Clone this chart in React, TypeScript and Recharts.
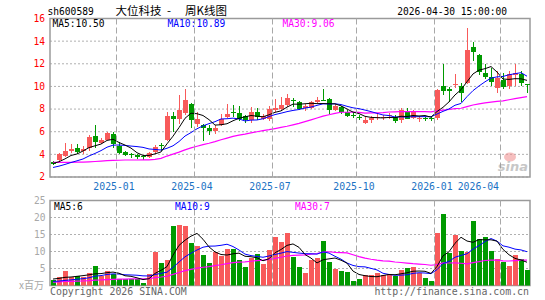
import React from 'react';
import { ComposedChart, Bar, Line, XAxis, YAxis, CartesianGrid, ReferenceArea } from 'recharts';

// ---- weekly candles (80 weeks) ----
const opens = [3.35, 3.5, 3.85, 4.27, 4.6, 4.3, 4.55, 5.65, 5.0, 5.3,
  5.76, 4.75, 4.2, 4.0, 3.95, 3.82, 3.74, 4.17, 4.84, 5.25,
  7.35, 7.1, 7.69, 8.47, 6.72, 6.58, 6.37, 6.05, 6.63, 7.34,
  7.74, 7.68, 7.36, 7.01, 7.74, 7.16, 7.1, 7.89, 7.98, 8.38,
  8.82, 8.65, 8.1, 8.1, 8.62, 8.82, 8.9, 7.9, 8.15, 7.71,
  7.45, 7.33, 6.8, 7.01, 7.22, 7.19, 7.39, 7.3, 7.01, 7.74,
  7.25, 7.13, 7.22, 7.2, 7.2, 10.05, 9.81, 10.1, 10.05, 10.34,
  13.46, 12.76, 11.21, 10.83, 9.9, 10.54, 10.05, 10.98, 11.07, 10.2];
const highs = [3.4, 4.1, 5.0, 4.9, 4.95, 4.7, 5.7, 6.62, 5.45, 5.95,
  6.0, 5.1, 4.3, 4.15, 4.0, 3.95, 4.2, 4.83, 4.98, 7.7,
  7.74, 9.2, 9.78, 8.56, 7.74, 6.72, 6.58, 6.58, 7.6, 8.47,
  8.38, 8.27, 7.51, 8.18, 8.1, 7.6, 8.27, 8.85, 9.06, 9.35,
  8.97, 8.73, 8.44, 8.73, 9.03, 9.8, 8.97, 8.44, 8.3, 7.92,
  7.63, 7.45, 7.28, 7.39, 7.65, 7.51, 7.65, 7.51, 8.1, 8.1,
  7.95, 7.42, 7.34, 7.4, 9.76, 11.94, 9.96, 11.07, 10.34, 15.2,
  13.92, 12.87, 11.94, 11.6, 11.36, 11.21, 11.36, 12.0, 11.36, 10.25];
const lows = [3.1, 3.4, 3.8, 4.1, 4.05, 4.0, 4.3, 4.6, 4.95, 5.25,
  4.55, 4.05, 3.85, 3.66, 3.55, 3.5, 3.65, 4.05, 4.3, 5.15,
  5.99, 6.72, 7.5, 6.34, 6.43, 5.18, 5.7, 5.79, 6.52, 7.22,
  7.34, 6.93, 6.81, 6.81, 7.01, 7.01, 6.93, 7.74, 7.8, 8.18,
  8.2, 7.92, 7.8, 8.0, 8.5, 8.67, 7.57, 7.8, 7.57, 7.34,
  7.19, 7.04, 6.69, 6.81, 7.04, 7.01, 7.16, 6.81, 6.81, 7.1,
  7.1, 6.84, 6.98, 6.98, 7.04, 9.26, 8.59, 9.9, 8.59, 10.2,
  12.23, 11.0, 10.63, 10.05, 9.46, 9.75, 9.75, 10.05, 10.05, 9.38];
const closes = [3.15, 4.0, 4.27, 4.5, 4.25, 4.45, 5.52, 5.06, 5.27, 5.85,
  4.95, 4.12, 3.92, 3.93, 3.8, 3.75, 4.12, 4.63, 4.77, 7.38,
  7.13, 7.89, 8.76, 7.01, 7.16, 6.34, 6.05, 6.37, 7.16, 7.6,
  7.65, 7.16, 7.01, 7.74, 7.3, 7.39, 8.03, 8.1, 8.38, 8.97,
  8.7, 8.0, 8.3, 8.59, 8.82, 8.73, 7.9, 8.27, 7.71, 7.42,
  7.36, 7.25, 7.05, 7.25, 7.28, 7.28, 7.45, 6.93, 7.89, 7.16,
  7.75, 7.22, 7.13, 7.15, 9.67, 9.61, 9.61, 10.2, 9.46, 13.2,
  13.05, 11.3, 10.83, 10.4, 10.78, 9.96, 11.13, 11.15, 10.34, 10.1];

// ---- weekly volume (x 百万) ----
const volumes = [1.5, 2.5, 4.2, 2.5, 2.8, 2.5, 3.7, 5.7, 2.8, 4.2,
  3.3, 2.0, 2.0, 2.0, 2.0, 0.7, 3.3, 9.8, 6.5, 7.5,
  17.5, 17.7, 17.4, 12.5, 11.5, 8.9, 6.5, 10.0, 8.7, 10.7,
  10.7, 7.5, 5.4, 8.0, 9.2, 6.3, 10.4, 14.3, 12.7, 15.3,
  8.4, 5.4, 3.7, 7.5, 8.2, 13.0, 6.8, 4.9, 4.3, 3.9,
  1.3, 1.8, 3.1, 3.1, 3.6, 3.1, 3.3, 2.7, 4.5, 5.1,
  5.4, 3.6, 2.3, 1.3, 15.4, 21.0, 9.6, 14.8, 10.1, 9.9,
  19.1, 13.6, 14.4, 10.2, 7.9, 7.0, 5.7, 9.1, 7.7, 4.7];

// moving-average values at the left edge (window reaches before the visible weeks)
const ma5Head = [3.2, 3.35, 3.6, 3.9];
const ma10Head = [2.84, 2.96, 3.11, 3.28, 3.43, 3.59, 3.86, 4.08, 4.33];
const ma30Head = [3.3, 3.3, 3.3, 3.3, 3.31, 3.32, 3.34, 3.37, 3.4, 3.44,
  3.46, 3.48, 3.5, 3.5, 3.5, 3.51, 3.52, 3.56, 3.65, 3.85,
  4.02, 4.2, 4.4, 4.57, 4.72, 4.86, 4.98, 5.12, 5.29];
const vma5Head = [1.9, 2.1, 2.4, 2.5];
const vma10Head = [1.2, 1.3, 1.5, 1.65, 1.85, 2.0, 2.27, 2.74, 2.92];
const vma30Head = [1.01, 1.06, 1.17, 1.22, 1.28, 1.33, 1.42, 1.58, 1.64, 1.75,
  1.83, 1.87, 1.9, 1.93, 1.96, 1.95, 2.03, 2.32, 2.5, 2.72,
  3.27, 3.83, 4.38, 4.76, 5.11, 5.37, 5.55, 5.85, 6.11];

const monthTicks = [11, 24, 37, 51, 64, 75];
const monthLabels = ['2025-01', '2025-04', '2025-07', '2025-10', '2026-01', '2026-04'];
const priceTicks = [2, 4, 6, 8, 10, 12, 14, 16];
const volumeTicks = [0, 5, 10, 15, 20, 25];
const xDomain = [0, 80];

const stockCode = 'sh600589';
const stockTitle = ['大位科技 ', '- ', '周K线图'];
const stampText = '2026-04-30 15:00:00';
const priceLegend = ['MA5:10.50', 'MA10:10.89', 'MA30:9.06'];
const volumeLegend = ['MA5:6', 'MA10:9', 'MA30:7'];
const volumeUnit = 'x百万';

const RED = '#f85a5a';
const GREEN = '#009a00';
const GRID = '#b0b0b0';
const VGRID = '#a8a8a8';
const BORDER = '#9a9a9a';
const MONO = '"DejaVu Sans Mono", "Liberation Mono", monospace';

// plot-area extents (layout) used for the month separator lines drawn by the axis ticks
const MAIN_TOP = 18.5;
const MAIN_BOTTOM = 177;
const VOL_TOP = 5.5;
const VOL_BOTTOM = 90.5;

function movingAverage(values: number[], n: number, head: number[]) {
  return values.map((_, i) => {
    if (i < head.length) return head[i];
    let s = 0;
    for (let k = i - n + 1; k <= i; k++) s += values[k];
    return s / n;
  });
}

const ma5 = movingAverage(closes, 5, ma5Head);
const ma10 = movingAverage(closes, 10, ma10Head);
const ma30 = movingAverage(closes, 30, ma30Head);
const vma5 = movingAverage(volumes, 5, vma5Head);
const vma10 = movingAverage(volumes, 10, vma10Head);
const vma30 = movingAverage(volumes, 30, vma30Head);

const data = closes.map((c, i) => ({
  x: i + 0.5,
  open: opens[i],
  high: highs[i],
  low: lows[i],
  close: c,
  range: [lows[i], highs[i]],
  up: c >= opens[i],
  ma5: ma5[i],
  ma10: ma10[i],
  ma30: ma30[i],
  vol: volumes[i],
  vma5: vma5[i],
  vma10: vma10[i],
  vma30: vma30[i],
}));

const Candle = (props: any) => {
  const { x, y, width, height, payload } = props;
  if (x == null || !payload) return null;
  const top = Math.min(y, y + height);
  const h = Math.abs(height);
  const { open, close, high, low } = payload;
  const k = high > low ? h / (high - low) : 0;
  const py = (v: number) => top + (high - v) * k;
  const color = close >= open ? RED : GREEN;
  const bx = Math.round(x + width / 2 - 2.5);
  const bTop = py(Math.max(open, close));
  const bBot = py(Math.min(open, close));
  return (
    <g shapeRendering="crispEdges">
      <rect x={bx + 2} y={top} width={1} height={Math.max(h, 1)} fill={color} />
      <rect x={bx} y={bTop} width={5} height={Math.max(bBot - bTop, 1)} fill={color} />
    </g>
  );
};

const VolBar = (props: any) => {
  const { x, y, width, height, payload } = props;
  if (x == null || !payload) return null;
  const top = Math.min(y, y + height);
  const h = Math.abs(height);
  const bx = Math.round(x + width / 2 - 2.5);
  return <rect x={bx} y={top} width={5} height={h} fill={payload.up ? RED : GREEN} shapeRendering="crispEdges" />;
};

const PriceTick = (props: any) => {
  const { y, payload } = props;
  return (
    <text x={45} y={y} dy="0.35em" textAnchor="end" fill="#ff0000" fontFamily={MONO} fontSize={9.6}>
      {payload.value}
    </text>
  );
};

const VolumeTick = (props: any) => {
  const { y, payload } = props;
  const isZero = payload.value === 0;
  return (
    <text x={isZero ? 44 : 45.5} y={y} dy="0.35em" textAnchor="end" fill="#a8a8a8"
      fontFamily={isZero ? '"Noto Sans CJK SC", sans-serif' : MONO} fontSize={isZero ? 10 : 9.6}>
      {isZero ? volumeUnit : payload.value}
    </text>
  );
};

// month tick: label plus the dashed separator line at the tick's scaled x
const MonthTick = (props: any) => {
  const { x, payload } = props;
  const idx = monthTicks.indexOf(payload.value);
  const last = idx === monthTicks.length - 1;
  const lx = Math.round(x) + 0.5;
  return (
    <g>
      <line x1={lx} x2={lx} y1={MAIN_TOP} y2={MAIN_BOTTOM} stroke={VGRID} strokeWidth={1} strokeDasharray="6 3" />
      <text x={last ? x - 1 : x - 2} y={190} textAnchor={last ? 'end' : 'middle'} fill="#1a72c4"
        fontFamily={MONO} fontSize={9.8}>
        {monthLabels[idx]}
      </text>
    </g>
  );
};

const VolMonthTick = (props: any) => {
  const { x } = props;
  if (x == null) return null;
  const lx = Math.round(x) + 0.5;
  return <line x1={lx} x2={lx} y1={VOL_TOP} y2={VOL_BOTTOM} stroke={VGRID} strokeWidth={1} strokeDasharray="6 3" />;
};

export default function App() {
  return (
    <div style={{ position: 'absolute', left: 0, top: 0, width: 545, height: 300, background: '#fff', overflow: 'hidden' }}>
      <div style={{ position: 'absolute', left: 0, top: 0 }}>
        <ComposedChart width={545} height={195} data={data} margin={{ top: 18.5, right: 15, bottom: 0, left: 0 }}>
          <CartesianGrid vertical={false} stroke={GRID} strokeDasharray="2 2" />
          <XAxis type="number" dataKey="x" domain={xDomain} ticks={monthTicks} interval={0}
            height={18} axisLine={false} tickLine={false} tick={<MonthTick />} allowDataOverflow />
          <YAxis type="number" domain={[2, 16]} ticks={priceTicks} interval={0} width={50}
            axisLine={false} tickLine={false} tick={<PriceTick />} allowDataOverflow />
          <ReferenceArea x1={0} x2={80} y1={2} y2={16} fill="none" stroke={BORDER} strokeWidth={1.5} />
          <Line dataKey="ma30" stroke="#ff00ff" strokeWidth={1.2} dot={false} isAnimationActive={false} />
          <Line dataKey="ma10" stroke="#0000ff" strokeWidth={1} dot={false} isAnimationActive={false} />
          <Line dataKey="ma5" stroke="#000000" strokeWidth={1} dot={false} isAnimationActive={false} />
          <Bar dataKey="range" barSize={5} shape={<Candle />} isAnimationActive={false} />
        </ComposedChart>
      </div>
      <div style={{ position: 'absolute', left: 0, top: 195 }}>
        <ComposedChart width={545} height={105} data={data} margin={{ top: 5.5, right: 15, bottom: 0, left: 0 }}>
          <CartesianGrid vertical={false} stroke={GRID} strokeDasharray="2 2" />
          <XAxis type="number" dataKey="x" domain={xDomain} ticks={monthTicks} interval={0}
            height={14.5} axisLine={false} tickLine={false} tick={<VolMonthTick />} allowDataOverflow />
          <YAxis type="number" domain={[0, 25]} ticks={volumeTicks} interval={0} width={50}
            axisLine={false} tickLine={false} tick={<VolumeTick />} allowDataOverflow />
          <ReferenceArea x1={0} x2={80} y1={0} y2={25} fill="none" stroke={BORDER} strokeWidth={1.5} />
          <Bar dataKey="vol" barSize={5} shape={<VolBar />} isAnimationActive={false} />
          <Line dataKey="vma30" stroke="#ff00ff" strokeWidth={1.2} dot={false} isAnimationActive={false} />
          <Line dataKey="vma10" stroke="#0000ff" strokeWidth={1} dot={false} isAnimationActive={false} />
          <Line dataKey="vma5" stroke="#000000" strokeWidth={1} dot={false} isAnimationActive={false} />
        </ComposedChart>
      </div>
      <svg width={545} height={300} style={{ position: 'absolute', left: 0, top: 0, pointerEvents: 'none' }}>
        <text x={47.5} y={15} fontFamily={MONO} fontSize={9.6} fill="#000">{stockCode}</text>
        <text y={15} fontFamily='"Noto Sans CJK SC", sans-serif' fontSize={11.5} fill="#000">
          <tspan x={115.5}>{stockTitle[0]}</tspan>
          <tspan x={167}>{stockTitle[1]}</tspan>
          <tspan x={185}>{stockTitle[2]}</tspan>
        </text>
        <text x={507} y={15} textAnchor="end" fontFamily={MONO} fontSize={9.6} fill="#000">{stampText}</text>
        <text x={52.5} y={27} fontFamily={MONO} fontSize={9.6} fill="#000">{priceLegend[0]}</text>
        <text x={167.5} y={27} fontFamily={MONO} fontSize={9.6} fill="#0000ff">{priceLegend[1]}</text>
        <text x={282.5} y={27} fontFamily={MONO} fontSize={9.6} fill="#ff00ff">{priceLegend[2]}</text>
        <text x={54} y={209.5} fontFamily={MONO} fontSize={9.6} fill="#000">{volumeLegend[0]}</text>
        <text x={175} y={209.5} fontFamily={MONO} fontSize={9.6} fill="#0000ff">{volumeLegend[1]}</text>
        <text x={295} y={209.5} fontFamily={MONO} fontSize={9.6} fill="#ff00ff">{volumeLegend[2]}</text>
        <text x={50} y={295} fontFamily={MONO} fontSize={9.9} fill="#666">Copyright 2026 SINA.COM</text>
        <text x={529} y={295} textAnchor="end" fontFamily={MONO} fontSize={9.9} fill="#666">http://finance.sina.com.cn</text>
        <g opacity={0.55}>
          <ellipse cx={510} cy={157} rx={6} ry={4.5} fill="#f08c8c" />
          <text x={528} y={171} textAnchor="end" fontFamily='"DejaVu Sans", sans-serif' fontStyle="italic"
            fontWeight="bold" fontSize={13} fill="#9a9a9a">sina</text>
        </g>
      </svg>
    </div>
  );
}
